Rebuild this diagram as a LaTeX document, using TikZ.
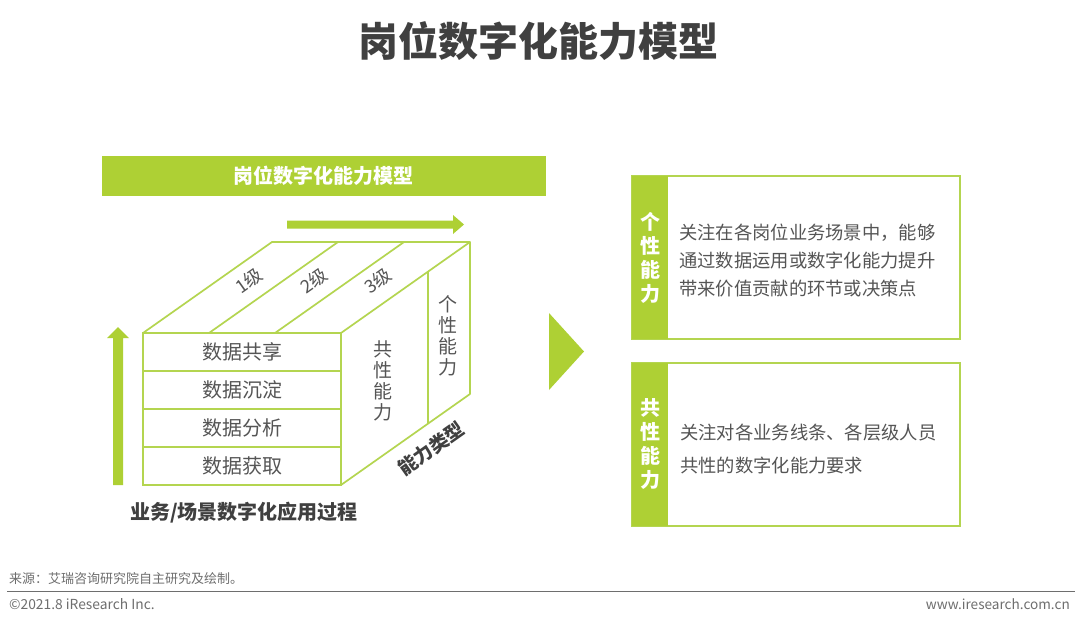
\documentclass[tikz,border=0pt]{standalone}
\usepackage{fontspec}
\setmainfont{Noto Sans CJK SC}
\definecolor{lime}{RGB}{174,208,52}
\definecolor{limeline}{RGB}{180,213,80}
\definecolor{txt}{RGB}{85,85,85}
\definecolor{ttl}{RGB}{64,64,64}
\definecolor{foot}{RGB}{110,110,110}
\tikzset{
  cube/.style={draw=limeline, line width=1.7pt, line join=round},
  rowbox/.style={draw=limeline, line width=1.7pt, minimum width=198pt, minimum height=38pt, inner sep=0pt, outer sep=0pt, text=txt, font=\fontsize{20}{21}\selectfont},
  lvl/.style={text=txt, rotate=35.2, font=\fontsize{18}{19}\selectfont, inner sep=0pt},
  vtext/.style={text=txt, align=center, inner sep=0pt, font=\fontsize{19}{21}\selectfont},
  panel/.style={draw=limeline, line width=1.2pt, minimum width=328pt, minimum height=163pt, inner sep=0pt, outer sep=0pt},
  strip/.style={fill=lime, minimum width=36pt, minimum height=163pt, inner sep=0pt, outer sep=0pt, anchor=west},
  striptext/.style={text=white, align=center, inner sep=0pt, font=\bfseries\fontsize{20}{24}\selectfont},
  body/.style={text=txt, align=left, anchor=west, inner sep=0pt, font=\fontsize{18.3}{28}\selectfont},
  greenshape/.style={fill=lime, draw=none}
}
\begin{document}
\begin{tikzpicture}[x=1pt,y=-1pt]
\useasboundingbox (0,0) rectangle (1080,622);
\fill[white] (0,0) rectangle (1080,622);

% main title
\node[text=ttl, font=\bfseries\fontsize{40}{41}\selectfont, inner sep=0pt] (title) at (538,41) {岗位数字化能力模型};

% banner
\node[fill=lime, minimum width=444pt, minimum height=40pt, inner sep=0pt] (banner) at (324,176) {};
\node[text=white, font=\bfseries\fontsize{20}{21}\selectfont, inner sep=0pt] (bannertext) at (323,176) {岗位数字化能力模型};

% top arrow
\fill[greenshape] (287,220.5) -- (453,220.5) -- (453,215) -- (464,224.5) -- (453,234) -- (453,228.5) -- (287,228.5) -- cycle;
% up arrow
\fill[greenshape] (113,485) -- (113,338) -- (107,338) -- (118,327) -- (129,338) -- (123,338) -- (123,485) -- cycle;

% front rows
\node[rowbox] (r1) at (242,352) {数据共享};
\node[rowbox] (r2) at (242,390) {数据沉淀};
\node[rowbox] (r3) at (242,428) {数据分析};
\node[rowbox] (r4) at (242,466) {数据获取};

% cube geometry
\coordinate (bl) at (272,242);
\coordinate (br) at (470,242);
\coordinate (bbr) at (470,394);
\coordinate (f1) at (209,333);
\coordinate (f2) at (275,333);
\coordinate (b1) at (338,242);
\coordinate (b2) at (404,242);
\coordinate (dt) at (428,271.6);
\coordinate (db) at (428,423.6);
\draw[cube] (r1.north west) -- (bl) -- (br) -- (r1.north east);
\draw[cube] (br) -- (bbr) -- (r4.south east);
\draw[cube] (f1) -- (b1);
\draw[cube] (f2) -- (b2);
\draw[cube] (dt) -- (db);

% level labels
\node[lvl] (l1) at (249,281) {1级};
\node[lvl] (l2) at (314,281) {2级};
\node[lvl] (l3) at (378,281) {3级};

% vertical labels
\node[vtext] (gx) at (383,381) {共\\性\\能\\力};
\node[vtext] (gxr) at (448,336) {个\\性\\能\\力};

% ability type
\node[text=ttl, rotate=35.2, font=\bfseries\fontsize{19}{20}\selectfont, inner sep=0pt] (type) at (431,449) {能力类型};

% process label
\node[text=ttl, font=\bfseries\fontsize{20}{21}\selectfont, inner sep=0pt] (proc) at (244,513) {业务/场景数字化应用过程};

% chevron
\fill[greenshape] (549,313) -- (584,351.5) -- (549,390) -- cycle;

% panel 1
\node[panel] (p1) at (796,257.5) {};
\node[strip] (s1) at (p1.west) {};
\node[striptext] (s1t) at (s1.center) {个\\性\\能\\力};
\node[body] (t1) at (679,261) {关注在各岗位业务场景中，能够\\通过数据运用或数字化能力提升\\带来价值贡献的环节或决策点};

% panel 2
\node[panel] (p2) at (796,444.5) {};
\node[strip] (s2) at (p2.west) {};
\node[striptext] (s2t) at (s2.center) {共\\性\\能\\力};
\node[body, font=\fontsize{18.3}{33}\selectfont] (t2) at (680,449.5) {关注对各业务线条、各层级人员\\共性的数字化能力要求};

% footer
\node[text=foot, anchor=west, inner sep=0pt, font=\fontsize{13}{14}\selectfont] (src) at (9,579) {来源：艾瑞咨询研究院自主研究及绘制。};
\coordinate (la) at (7,591.5);
\coordinate (lb) at (1075,591.5);
\draw[draw=foot, line width=1.2pt] (la) -- (lb);
\node[text=foot, anchor=west, inner sep=0pt, font=\fontsize{13.8}{15}\selectfont] (copy) at (9,604.5) {©2021.8 iResearch Inc.};
\node[text=foot, anchor=east, inner sep=0pt, font=\fontsize{13.6}{15}\selectfont] (web) at (1070,604.5) {www.iresearch.com.cn};
\end{tikzpicture}
\end{document}
